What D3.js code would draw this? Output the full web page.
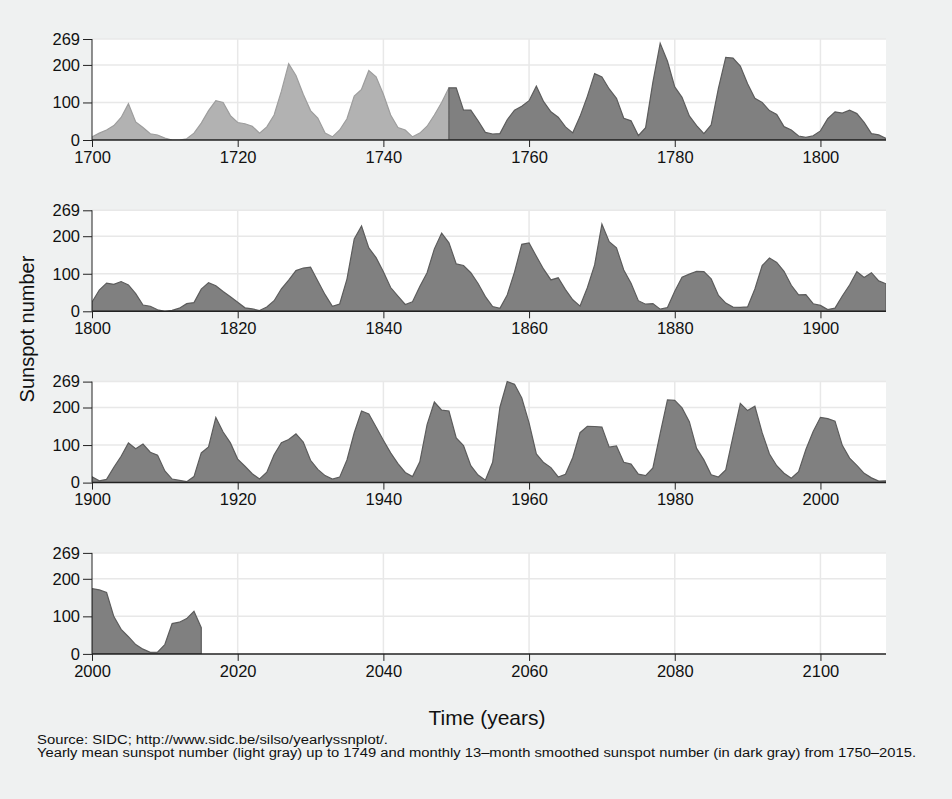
<!DOCTYPE html>
<html>
<head>
<meta charset="utf-8">
<script src="https://cdn.jsdelivr.net/npm/d3@7"></script>
<style>
  body { margin: 0; background: #eff1f1; }
  svg { display: block; font-family: "Liberation Sans", Arial, sans-serif; }
  .tick text { font-size: 16.5px; fill: #111; }
</style>
</head>
<body>
<div class="render"></div>
<script>
"use strict";

// yearly sunspot numbers, light gray part 1700-1749
var lightStart = 1700;
var lightValues = [8.3, 18.3, 26.7, 38.3, 60, 96.7, 48.3, 33.3, 16.7, 13.3,
  5, 0, 0, 3.3, 18.3, 45, 78.3, 105, 100, 65,
  46.7, 43.3, 36.7, 18.3, 35, 66.7, 130, 203.3, 171.7, 121.7,
  78.3, 58.3, 18.3, 8.3, 26.7, 56.7, 116.7, 135, 185, 168.3,
  121.7, 66.7, 33.3, 26.7, 8.3, 18.3, 36.7, 66.7, 100, 139];

// dark gray part 1749-2015
var darkStart = 1749;
var darkValues = [139, 139, 79.5, 79.7, 51.2, 20.3, 16, 17, 54, 79.3,
  90, 104.8, 143.2, 102, 75.2, 60.7, 34.8, 19, 63, 116.3,
  176.8, 168, 136, 110.8, 58, 51, 11.7, 33, 154.2, 257.3,
  209.8, 141.3, 113.5, 64.2, 38, 17, 40.2, 138.2, 220, 218.2,
  196.8, 149.8, 111, 100, 78.2, 68.3, 35.5, 26.7, 10.7, 6.8,
  11.3, 24.2, 56.7, 75, 71.8, 79.2, 70.3, 46.8, 16.8, 13.5,
  4.2, 0, 2.3, 8.3, 20.3, 23.2, 59, 76.3, 68.3, 52.9,
  38.5, 24.2, 9.2, 6.3, 2.2, 11.4, 28.2, 59.9, 83, 108.5,
  115.2, 117.4, 80.8, 44.3, 13.4, 19.5, 85.8, 192.7, 227.3, 168.7,
  143, 105.5, 63.3, 40.3, 18.1, 25.1, 65.8, 102.7, 166.3, 208.3,
  182.5, 126.3, 122, 102.7, 74.1, 39, 12.7, 8.2, 43.4, 104.4,
  178.3, 182.2, 146.6, 112.1, 83.5, 89.2, 57.8, 30.7, 13.9, 62.8,
  123.6, 232, 185.3, 169.2, 110.1, 74.5, 28.3, 18.9, 20.7, 5.7,
  10, 53.7, 90.5, 99, 106.1, 105.8, 86.3, 42.4, 21.8, 11.2,
  10.4, 11.8, 59.5, 121.7, 142, 130, 106.6, 69.4, 43.8, 44.4,
  20.2, 15.7, 4.6, 8.5, 40.8, 70.1, 105.5, 90.1, 102.8, 80.9,
  73.2, 30.9, 9.5, 6, 2.4, 16.1, 79, 95, 173.6, 134.6,
  105.7, 62.7, 43.5, 23.7, 9.7, 27.9, 74, 106.5, 114.7, 129.7,
  108.2, 59.4, 35.1, 18.6, 9.2, 14.6, 60.2, 132.8, 190.6, 182.6,
  148, 113, 79.2, 50.8, 27.1, 16.1, 55.3, 154.3, 214.7, 193,
  190.7, 118.9, 98.3, 45, 20.1, 6.6, 54.2, 200.7, 269.3, 261.7,
  225.1, 159, 76.4, 53.4, 39.9, 15, 22, 66.8, 132.9, 150,
  149.4, 148, 94.4, 97.6, 54.1, 49.2, 22.5, 18.4, 39.3, 131,
  220.1, 218.9, 198.9, 162.4, 91, 60.5, 20.6, 14.8, 33.9, 123,
  211.1, 191.8, 203.3, 133, 76.1, 44.9, 25.1, 11.6, 28.9, 88.3,
  136.3, 173.9, 170.4, 163.6, 99.3, 65.3, 45.8, 24.7, 12.6, 4.2,
  4.8, 24.9, 80.8, 84.5, 94, 113.3, 69.8];

var panelStarts = [1700, 1800, 1900, 2000];
var yTicks = [0, 100, 200, 269];

var lightData = lightValues.map(function (v, i) { return { year: lightStart + i, value: v }; });
var darkData = darkValues.map(function (v, i) { return { year: darkStart + i, value: v }; });

var w = 952, h = 799;
var left = 92, right = 886;
var panelTop = 39, panelH = 101, panelStep = 171.3;

var svg = d3.select('.render').append('svg').attr('width', w).attr('height', h);
svg.append('rect').attr('width', w).attr('height', h).attr('fill', '#eff1f1');

panelStarts.forEach(function (start, p) {
  var top = panelTop + p * panelStep;
  var x = d3.scaleLinear().domain([start, start + 109]).range([left, right]);
  var y = d3.scaleLinear().domain([0, 269]).range([top + panelH, top]);
  var g = svg.append('g');

  g.append('rect').attr('x', left).attr('y', top).attr('width', right - left).attr('height', panelH).attr('fill', '#fff');

  var clipId = 'clip' + p;
  svg.append('clipPath').attr('id', clipId).append('rect')
    .attr('x', left).attr('y', top - 2).attr('width', right - left).attr('height', panelH + 2);

  var xTicks = d3.range(start, start + 110, 20);

  // grid
  g.selectAll('.vg').data(xTicks.slice(1)).enter().append('line')
    .attr('x1', function (d) { return x(d); }).attr('x2', function (d) { return x(d); })
    .attr('y1', top).attr('y2', top + panelH).attr('stroke', '#e8e8e8').attr('stroke-width', 1.5);
  g.selectAll('.hg').data(yTicks.slice(1)).enter().append('line')
    .attr('x1', left).attr('x2', right)
    .attr('y1', function (d) { return y(d); }).attr('y2', function (d) { return y(d); })
    .attr('stroke', '#e8e8e8').attr('stroke-width', 1.5);

  var area = d3.area().x(function (d) { return x(d.year); }).y0(y(0)).y1(function (d) { return y(d.value); });
  var inRange = function (d) { return d.year >= start && d.year <= start + 109; };

  var lp = lightData.filter(inRange);
  if (lp.length) {
    g.append('path').datum(lp).attr('d', area).attr('clip-path', 'url(#' + clipId + ')')
      .attr('fill', '#b2b2b2').attr('stroke', '#9d9d9d').attr('stroke-width', 1.2);
  }
  var dp = darkData.filter(inRange);
  if (dp.length) {
    g.append('path').datum(dp).attr('d', area).attr('clip-path', 'url(#' + clipId + ')')
      .attr('fill', '#808080').attr('stroke', '#5c5c5c').attr('stroke-width', 1.2);
  }

  var xAxis = d3.axisBottom(x).tickValues(xTicks).tickSize(7).tickPadding(4).tickFormat(d3.format('d'));
  var ax = g.append('g').attr('transform', 'translate(0,' + (top + panelH) + ')').call(xAxis);
  ax.select('.domain').attr('d', 'M' + left + ',0H' + right).attr('stroke', '#222').attr('stroke-width', 1.5);
  ax.selectAll('.tick line').attr('stroke', '#222');

  var yAxis = d3.axisLeft(y).tickValues(yTicks).tickSize(9).tickPadding(3);
  var ay = g.append('g').attr('transform', 'translate(' + left + ',0)').call(yAxis);
  ay.select('.domain').attr('d', 'M0,' + top + 'V' + (top + panelH)).attr('stroke', '#222');
  ay.selectAll('.tick line').attr('stroke', '#222');
});

svg.append('text').text('Sunspot number')
  .attr('transform', 'translate(34,329)rotate(-90)').attr('text-anchor', 'middle')
  .style('font-size', '20px').attr('fill', '#111');

svg.append('text').text('Time (years)').attr('x', 487).attr('y', 725)
  .attr('text-anchor', 'middle').style('font-size', '21px').attr('fill', '#111');

svg.append('text').text('Source: SIDC; http://www.sidc.be/silso/yearlyssnplot/.')
  .attr('x', 37).attr('y', 744).style('font-size', '12.5px').attr('fill', '#111')
  .attr('textLength', 351).attr('lengthAdjust', 'spacingAndGlyphs');
svg.append('text').text('Yearly mean sunspot number (light gray) up to 1749 and monthly 13\u2013month smoothed sunspot number (in dark gray) from 1750\u20132015.')
  .attr('x', 37).attr('y', 757).style('font-size', '12.5px').attr('fill', '#111')
  .attr('textLength', 879).attr('lengthAdjust', 'spacingAndGlyphs');
</script>
</body>
</html>
